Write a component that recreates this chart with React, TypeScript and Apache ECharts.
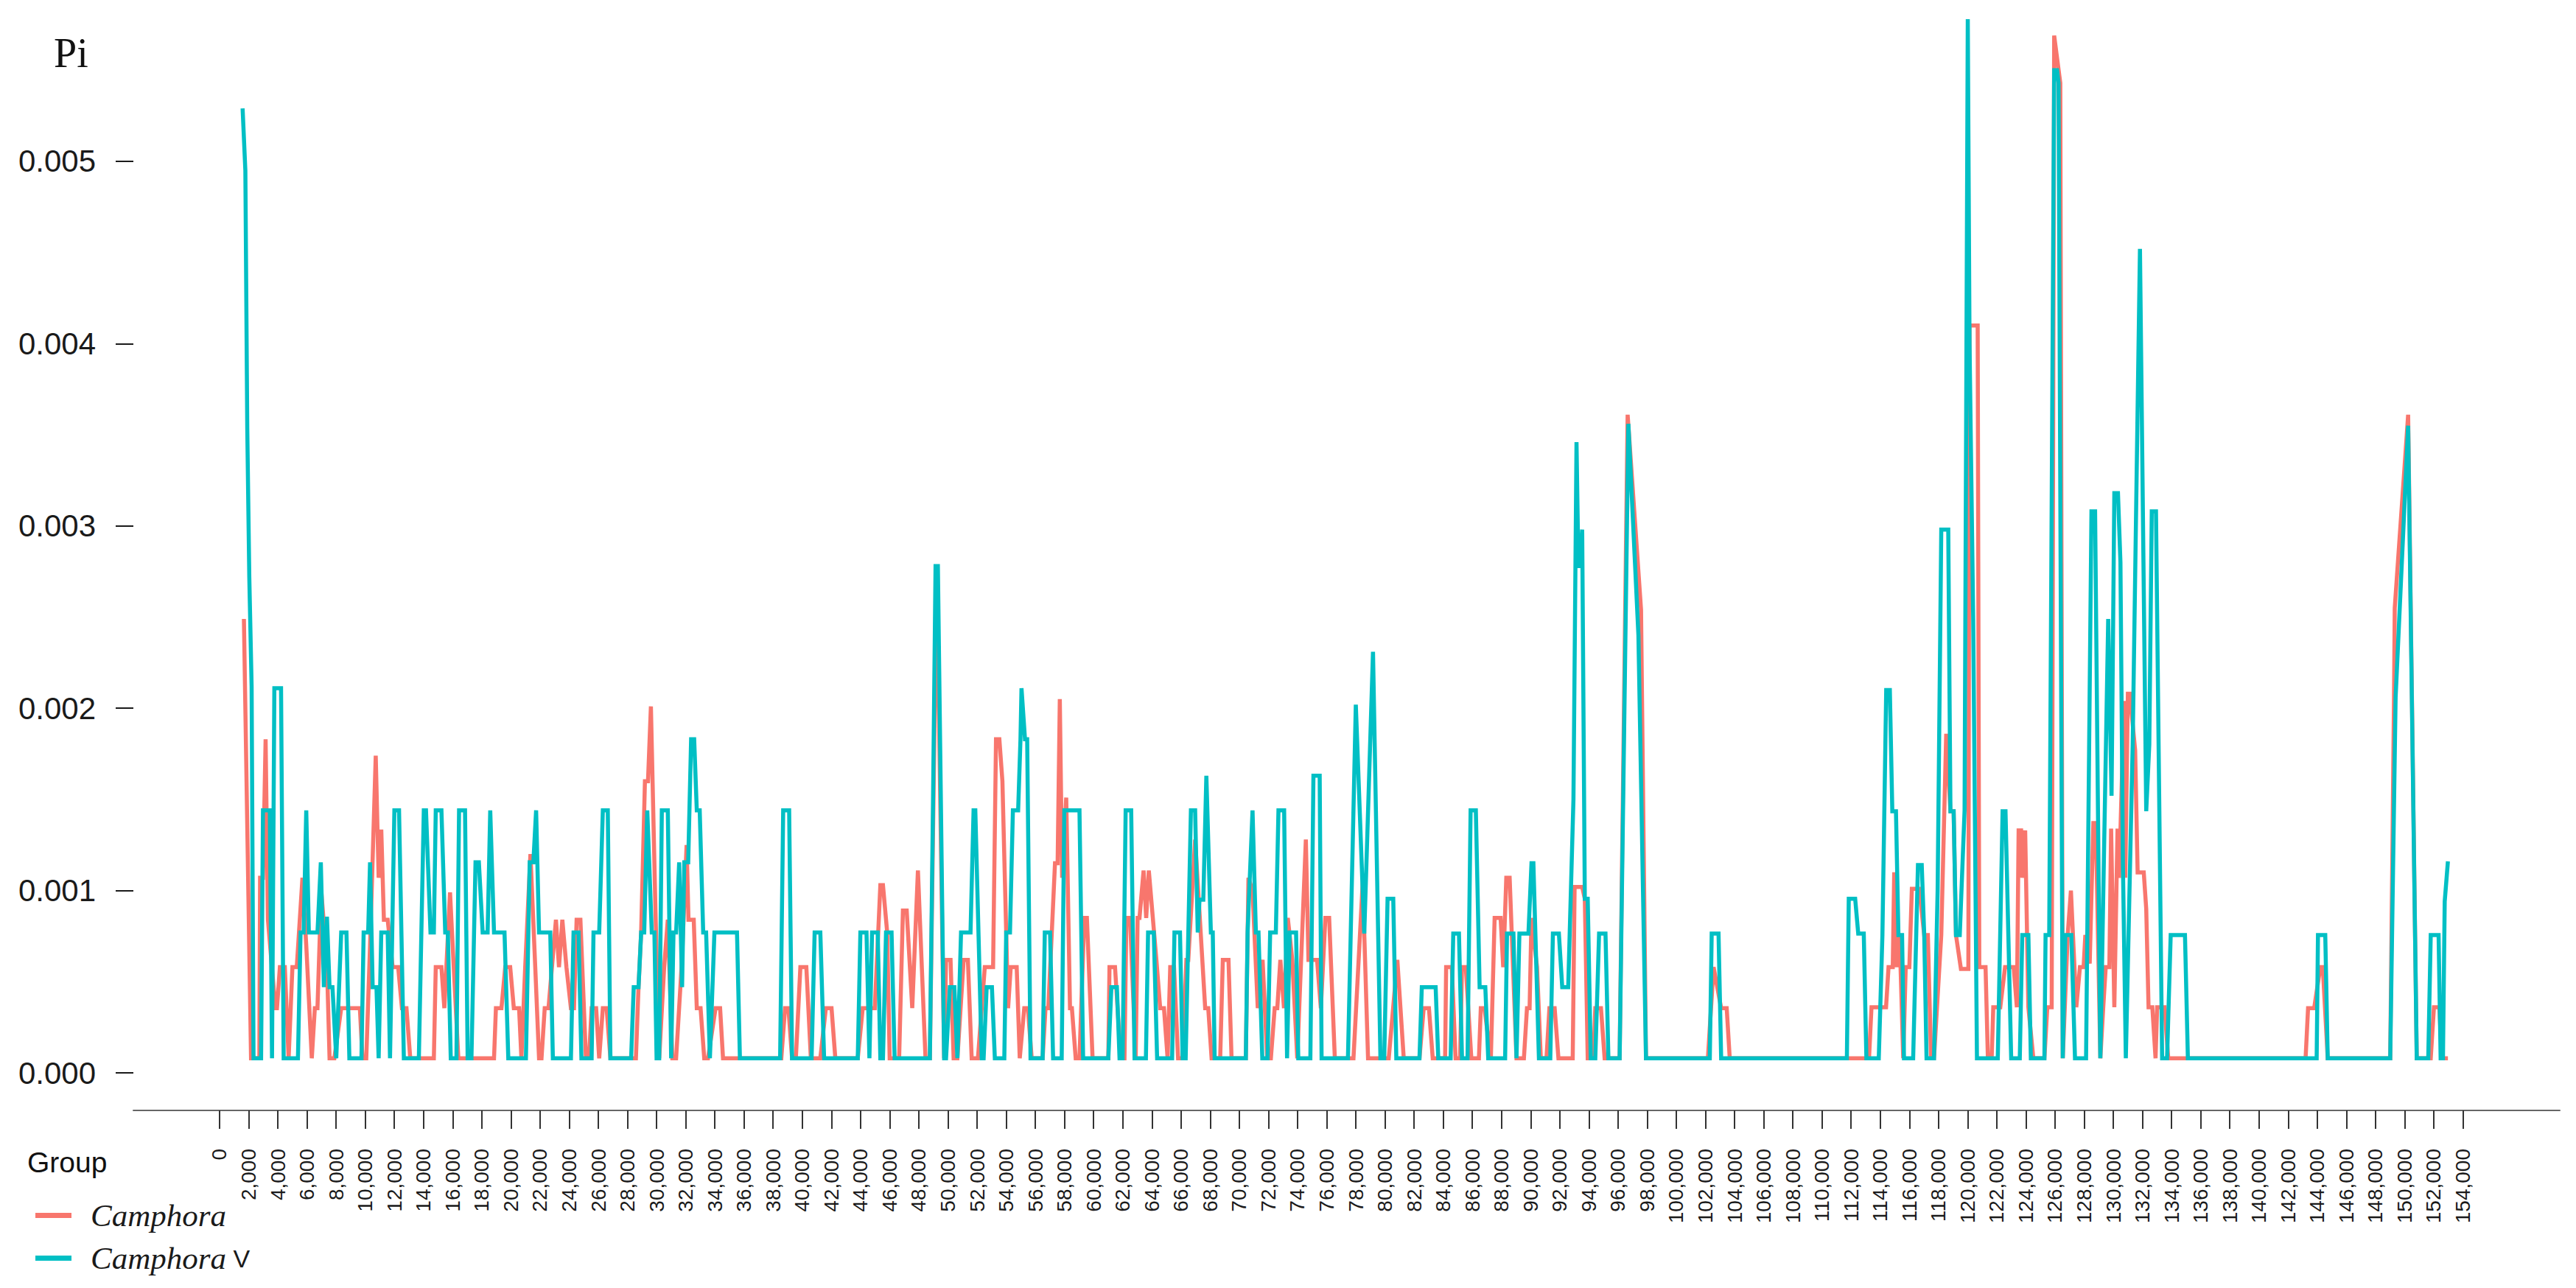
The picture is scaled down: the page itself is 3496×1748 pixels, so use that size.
import React, { useEffect, useRef } from "react";
import * as echarts from "echarts";

const redA = [[1.67,2.49],[2.16,.08],[2.73,.08],[2.78,1.07],[2.98,1.07],[3.16,1.83],[3.32,.84],[3.83,.355],[3.94,.355],[4.14,.58],[4.48,.58],[4.74,.08],[5.0,.58],[5.3,.58],[5.69,1.07],[5.95,.7],[6.33,.08],[6.54,.355],[6.72,.355],[6.98,1.0],[7.37,.6],[7.55,.08],[7.88,.08],[8.35,.355],[8.53,.355],[9.63,.355],[9.81,.08],[10.07,.08],[10.33,.7],[10.72,1.74],[10.92,1.07],[11.1,1.335],[11.28,.84],[11.54,.84],[11.88,.58],[12.26,.58],[12.52,.355],[12.83,.355],[13.09,.08],[14.71,.08],[14.84,.58],[15.23,.58],[15.43,.355],[15.82,.99],[16.0,.7],[16.39,.08],[18.84,.08],[18.97,.355],[19.35,.355],[19.61,.58],[19.95,.58],[20.2,.355],[20.56,.355],[20.72,.08],[20.98,.58],[21.34,1.2],[21.67,.58],[21.93,.08],[22.1,.08],[22.32,.355],[22.58,.355],[23.09,.84],[23.3,.58],[23.53,.84],[23.81,.58],[24.12,.355],[24.33,.355],[24.51,.84],[24.77,.84],[25.15,.08],[25.36,.08],[25.54,.355],[25.85,.355],[26.06,.08],[26.31,.355],[26.57,.355],[26.83,.08],[28.58,.08],[28.76,.47],[28.94,.77],[29.2,1.6],[29.41,1.6],[29.61,2.01],[29.92,.9],[30.18,.08],[30.52,.58],[30.77,.84],[31.08,.08],[31.34,.08],[31.73,.6],[32.06,1.25],[32.19,.84],[32.55,.84],[32.76,.355],[33.02,.355],[33.27,.08],[33.53,.08],[34.05,.355],[34.36,.355],[34.56,.08],[38.56,.08],[38.82,.355],[39.05,.355]];
const redB = [[39.3,.08],[39.56,.08],[39.87,.58],[40.28,.58],[40.59,.08],[41.24,.08],[41.62,.355],[42.01,.355],[42.27,.08],[43.81,.08],[44.15,.355],[44.98,.355],[45.36,1.03],[45.54,1.03],[45.83,.77],[46.0,.08],[46.65,.08],[46.91,.89],[47.17,.89],[47.55,.355],[47.94,1.11],[48.46,.08],[48.76,.08],[49.23,2.78],[49.74,.08],[49.87,.62],[50.18,.62],[50.39,.08],[50.65,.08],[51.08,.62],[51.37,.62],[51.63,.08],[52.06,.08],[52.53,.58],[53.1,.58],[53.3,1.83],[53.53,1.83],[53.74,1.6],[54.13,.355],[54.31,.58],[54.72,.58],[54.93,.08],[55.24,.355],[55.49,.355],[55.75,.08],[56.5,.08],[56.7,.355],[56.89,.355],[57.35,1.15],[57.53,1.15],[57.68,2.05],[57.84,1.07],[58.12,1.51],[58.38,.355],[58.51,.355],[58.77,.08],[59.03,.08],[59.36,.85],[59.54,.85],[59.93,.08],[61.01,.08],[61.09,.58],[61.47,.58],[61.86,.08],[62.12,.08],[62.25,.85],[62.5,.85],[62.89,.08],[63.02,.85],[63.15,.85],[63.43,1.11],[63.61,.85],[63.79,1.11],[64.31,.62],[64.57,.355],[64.83,.355],[65.08,.08],[65.26,.58],[65.52,.58],[65.8,.08],[66.11,.08],[66.37,.62],[66.5,.62],[66.97,1.28],[67.66,.355],[67.87,.355],[68.1,.08],[68.69,.08],[68.87,.62],[69.26,.62],[69.47,.08],[70.45,.08],[70.63,1.07],[70.91,1.0],[71.27,.355],[71.6,.62],[71.92,.08],[72.17,.08],[72.43,.355],[72.61,.355],[72.82,.62],[73.07,.355],[73.33,.85],[73.64,.62],[73.98,.08],[74.57,1.28],[74.75,.62],[75.34,.62],[75.6,.355],[75.91,.85],[76.17,.85],[76.56,.08],[77.84,.08],[78.49,1.07],[78.58,.764]];
const redC = [[78.84,.08],[80.26,.08],[80.85,.62],[81.29,.08],[82.37,.08],[82.66,.355],[83.02,.355],[83.28,.08],[84.13,.08],[84.2,.58],[84.59,.58],[84.85,.08],[85.16,.08],[85.29,.58],[85.55,.58],[85.93,.08],[86.45,.08],[86.58,.355],[86.83,.355],[87.27,.08],[87.53,.85],[87.94,.85],[88.12,.58],[88.33,1.07],[88.56,1.07],[89.03,.08],[89.54,.08],[89.75,.355],[89.93,.355],[90.06,.85],[90.44,.58],[90.7,.08],[91.09,.08],[91.29,.355],[91.65,.355],[91.91,.08],[92.89,.08],[93.02,1.02],[93.54,1.02],[93.72,.955],[93.92,.08],[94.31,.08],[94.44,.355],[94.83,.355],[95.08,.08],[96.11,.08],[96.66,3.61],[97.58,2.54],[97.92,.08],[102.17,.08],[102.56,.58],[103.08,.355],[103.46,.355],[103.67,.08],[113.23,.08]];
const redD = [[113.4,.36],[114.4,.36],[114.57,.58],[114.86,.58],[114.96,1.1],[115.13,.58],[115.33,.756],[115.58,.08],[115.75,.58],[116.0,.58],[116.17,1.01],[116.68,1.01],[117.02,.756],[117.27,.756],[117.49,.08],[117.69,.08],[118.19,.756],[118.53,1.86],[118.82,1.435],[119.04,1.435],[119.2,.756],[119.54,.57],[120.05,.57],[120.13,4.1],[120.69,4.1],[120.8,.58],[121.23,.58],[121.39,.08],[121.65,.08],[121.76,.36],[121.9,.36],[122.24,.36],[122.57,.58],[123.16,.58],[123.38,.36],[123.5,1.33],[123.67,1.33],[123.75,1.07],[123.95,1.33],[124.17,.36],[124.51,.08],[125.27,.08],[125.47,.36],[125.77,.36],[125.94,5.69],[126.36,5.43],[126.53,.08],[126.87,.756],[127.09,1.0],[127.46,.36],[127.71,.58],[127.96,.58],[128.08,.756],[128.38,.6],[128.63,1.37],[128.8,1.37],[129.11,.08],[129.31,.36],[129.48,.58],[129.73,.58],[129.85,1.34],[130.07,.36],[130.29,1.34],[130.4,1.07],[130.74,2.04],[130.82,1.07],[131.0,2.08],[131.13,2.08],[131.5,1.77],[131.67,1.1],[132.09,1.1],[132.26,.9],[132.42,.36],[132.68,.36],[132.9,.08],[133.01,.36],[133.52,.36],[133.77,.08],[143.2,.08],[143.37,.355],[143.79,.355],[144.21,.58],[144.38,.58],[144.72,.08],[149.01,.08],[149.27,2.06],[149.32,2.55],[150.24,3.61],[150.83,.08],[151.79,.08],[152.01,.36],[152.38,.36],[152.55,.08],[152.97,.08]];

const tealA = [[1.58,5.29],[1.77,4.95],[1.9,3.54],[2.04,2.72],[2.2,2.12],[2.33,.08],[2.85,.08],[2.98,1.44],[3.45,1.44],[3.6,.08],[3.76,2.11],[4.22,2.11],[4.4,.08],[5.38,.08],[5.56,.77],[5.77,.77],[5.95,1.44],[6.13,.77],[6.72,.77],[6.95,1.155],[7.16,.47],[7.37,.857],[7.55,.47],[7.75,.47],[8.01,.08],[8.35,.77],[8.71,.77],[8.91,.08],[9.74,.08],[9.89,.77],[10.2,.77],[10.33,1.155],[10.51,.47],[10.77,.47],[10.92,.08],[11.1,.77],[11.54,.77],[11.7,.08],[12.0,1.44],[12.32,1.44],[12.65,.08],[13.68,.08],[14.02,1.44],[14.17,1.44],[14.48,.77],[14.71,.77],[14.84,1.44],[15.23,1.44],[15.49,.77],[15.67,.77],[15.87,.08],[16.26,.08],[16.44,1.44],[16.85,1.44],[17.03,.08],[17.29,.08],[17.57,1.155],[17.8,1.155],[18.06,.77],[18.4,.77],[18.58,1.44],[18.84,.77],[19.56,.77],[19.82,.08],[21.03,.08],[21.29,1.155],[21.54,1.155],[21.73,1.44],[21.93,.77],[22.7,.77],[22.88,.08],[24.12,.08],[24.3,.77],[24.64,.77],[24.84,.08],[25.54,.08],[25.67,.77],[26.06,.77],[26.31,1.44],[26.65,1.44],[26.83,.08],[28.25,.08],[28.43,.47],[28.76,.47],[28.94,.77],[29.15,.77],[29.36,1.44],[29.67,.77],[29.85,.77],[30.0,.08],[30.18,.08],[30.36,1.44],[30.77,1.44],[31.0,.08],[31.16,.77],[31.34,.77],[31.55,1.155],[31.75,.47],[31.9,1.155],[32.17,1.155],[32.37,1.83],[32.58,1.83],[32.76,1.44],[32.96,1.44],[33.2,.77],[33.4,.77],[33.66,.08],[33.97,.77],[35.52,.77],[35.72,.08],[38.48,.08],[38.69,1.44],[39.1,1.44]];
const tealB = [[39.3,.08],[40.64,.08],[40.85,.77],[41.24,.77],[41.5,.08],[43.81,.08],[43.99,.77],[44.41,.77],[44.61,.08],[44.79,.77],[45.18,.77],[45.36,.08],[45.54,.08],[45.75,.77],[46.13,.77],[46.34,.08],[48.76,.08],[48.97,1.44],[49.15,2.78],[49.31,2.78],[49.74,.08],[49.87,.08],[50.13,.47],[50.44,.47],[50.65,.08],[50.9,.77],[51.55,.77],[51.76,1.44],[51.88,1.44],[52.32,.08],[52.45,.08],[52.66,.47],[53.02,.47],[53.22,.08],[53.87,.08],[54.0,.77],[54.26,.77],[54.46,1.44],[54.82,1.44],[54.98,1.83],[55.05,2.11],[55.29,1.83],[55.44,1.83],[55.67,.08],[56.5,.08],[56.65,.77],[57.01,.77],[57.22,.08],[57.81,.08],[57.99,1.44],[59.03,1.44],[59.28,.08],[61.01,.08],[61.22,.47],[61.6,.47],[61.78,.08],[61.99,.08],[62.2,1.44],[62.58,1.44],[62.81,.08],[63.59,.08],[63.74,.77],[64.13,.77],[64.36,.08],[65.39,.08],[65.55,.77],[65.93,.77],[66.11,.08],[66.32,.08],[66.68,1.44],[66.97,1.44],[67.15,.77],[67.27,.95],[67.53,.95],[67.74,1.63],[68.05,.77],[68.18,.77],[68.31,.08],[70.45,.08],[70.57,.77],[70.91,1.44],[71.14,.77],[71.32,.77],[71.58,.08],[71.94,.08],[72.12,.77],[72.51,.77],[72.69,1.44],[73.08,1.44],[73.28,.08],[73.46,.77],[73.9,.77],[74.05,.08],[74.88,.08],[75.09,1.63],[75.52,1.63],[75.65,.08],[77.46,.08],[78.0,2.02]];
const tealC = [[78.58,.764],[79.18,2.31],[79.69,.08],[79.95,.08],[80.18,.955],[80.57,.955],[80.78,.08],[82.37,.08],[82.53,.47],[83.48,.47],[83.66,.08],[84.51,.08],[84.69,.764],[85.08,.764],[85.29,.08],[85.67,.08],[85.88,1.44],[86.24,1.44],[86.5,.47],[86.89,.47],[87.09,.08],[88.25,.08],[88.38,.764],[88.82,.764],[89.03,.08],[89.23,.764],[89.85,.764],[90.06,1.15],[90.19,1.15],[90.57,.08],[91.35,.08],[91.53,.764],[91.94,.764],[92.17,.47],[92.58,.47],[92.94,1.5],[93.15,3.46],[93.28,2.78],[93.41,2.78],[93.54,2.98],[93.72,.955],[93.92,.955],[94.13,.08],[94.44,.08],[94.7,.764],[95.14,.764],[95.34,.08],[96.11,.08],[96.71,3.56],[97.4,2.4],[97.92,.08],[102.3,.08],[102.43,.764],[102.9,.764],[103.08,.08],[111.71,.08],[111.84,.955],[112.28,.955],[112.49,.764],[112.87,.764],[113.05,.08],[113.9,.08]];
const tealD = [[114.15,.756],[114.41,2.1],[114.66,2.1],[114.83,1.435],[115.08,1.435],[115.25,.756],[115.5,.756],[115.63,.08],[116.26,.08],[116.59,1.14],[116.85,1.14],[117.02,.756],[117.18,.08],[117.69,.08],[117.94,1.0],[118.19,2.98],[118.67,2.98],[118.82,1.435],[119.04,1.435],[119.2,.756],[119.46,.756],[119.79,1.44],[120.01,5.78],[120.13,4.0],[120.38,2.5],[120.64,.08],[122.07,.08],[122.4,1.435],[122.6,1.435],[122.99,.08],[123.58,.08],[123.75,.756],[124.17,.756],[124.34,.08],[125.27,.08],[125.35,.756],[125.6,.756],[125.94,5.5],[126.14,5.5],[126.24,5.43],[126.53,.08],[126.7,.756],[127.12,.756],[127.37,.08],[128.13,.08],[128.5,3.08],[128.75,3.08],[129.11,.08],[129.65,2.49],[129.88,1.52],[130.07,3.18],[130.32,3.18],[130.49,2.8],[130.66,1.14],[130.86,.08],[131.33,1.8],[131.83,4.52],[132.26,1.435],[132.47,1.8],[132.64,3.08],[132.93,3.08],[133.35,.08],[133.69,.08],[133.94,.756],[134.92,.756],[135.12,.08],[143.96,.08],[144.05,.756],[144.55,.756],[144.72,.08],[149.01,.08],[149.38,2.06],[150.24,3.55],[150.83,.08],[151.62,.08],[151.79,.756],[152.33,.756],[152.47,.08],[152.63,.08],[152.75,.94],[152.97,1.16]];

const yTicks = [0, 0.001, 0.002, 0.003, 0.004, 0.005];
const xTicks = Array.from({ length: 78 }, (_, i) => i * 2000);

const toPoints = (rows: number[][]) => rows.map(([kb, pi]) => [kb * 1000, pi / 1000]);
const SANS = '"Liberation Sans", Arial, sans-serif';
const SERIF = '"Liberation Serif", "Times New Roman", serif';

export default function App() {
  const ref = useRef<HTMLDivElement>(null);
  useEffect(() => {
    const chart = echarts.init(ref.current!, undefined, { renderer: "svg" });
    chart.setOption({
      animation: false,
      backgroundColor: "#ffffff",
      color: ["#F8766D", "#00BFC4"],
      grid: { left: 181, top: 0, width: 3293, height: 1507, containLabel: false },
      xAxis: {
        type: "value",
        min: -5918,
        max: 160650,
        splitLine: { show: false },
        axisLine: { show: true, onZero: false, lineStyle: { color: "#666666", width: 2 } },
        axisTick: { show: true, length: 25, customValues: xTicks, lineStyle: { color: "#333333", width: 2 } },
        axisLabel: {
          show: true,
          customValues: xTicks,
          rotate: 90,
          margin: 52,
          fontFamily: SANS,
          fontSize: 28,
          color: "#1a1a1a",
          formatter: (v: number) => v.toLocaleString("en-US"),
        },
      },
      yAxis: {
        type: "value",
        min: -0.000206,
        max: 0.005885,
        splitLine: { show: false },
        axisLine: { show: false, onZero: false },
        axisTick: { show: true, length: 24, customValues: yTicks, lineStyle: { color: "#1a1a1a", width: 2 } },
        axisLabel: {
          show: true,
          customValues: yTicks,
          margin: 51,
          fontFamily: SANS,
          fontSize: 42,
          color: "#1a1a1a",
          formatter: (v: number) => v.toFixed(3),
        },
      },
      legend: {
        orient: "vertical",
        left: 43,
        top: 1623,
        itemWidth: 49,
        itemHeight: 7,
        itemGap: 15,
        icon: "rect",
        data: ["Camphora", "Camphora V"],
        formatter: (name: string) => (name === "Camphora" ? "{i|Camphora}" : "{i|Camphora}{n| V}"),
        textStyle: {
          rich: {
            i: { fontFamily: SERIF, fontStyle: "italic", fontSize: 43, color: "#1a1a1a", padding: [0, 0, 0, 21], height: 48 },
            n: { fontFamily: SANS, fontSize: 34, color: "#1a1a1a", height: 48 },
          },
        },
      },
      graphic: [
        { type: "text", x: 73, y: 44, style: { text: "Pi", font: `56px ${SERIF}`, fill: "#111111" } },
        { type: "text", x: 37, y: 1558, style: { text: "Group", font: `39px ${SANS}`, fill: "#111111" } },
      ],
      series: [
        {
          name: "Camphora",
          type: "line",
          showSymbol: false,
          clip: false,
          data: toPoints([...redA, ...redB, ...redC, ...redD]),
          lineStyle: { width: 5.5, color: "#F8766D", join: "miter" },
        },
        {
          name: "Camphora V",
          type: "line",
          showSymbol: false,
          clip: false,
          data: toPoints([...tealA, ...tealB, ...tealC, ...tealD]),
          lineStyle: { width: 5.5, color: "#00BFC4", join: "miter" },
        },
      ],
    });
    return () => chart.dispose();
  }, []);
  return <div ref={ref} style={{ position: "absolute", left: 0, top: 0, width: 3496, height: 1748 }} />;
}
